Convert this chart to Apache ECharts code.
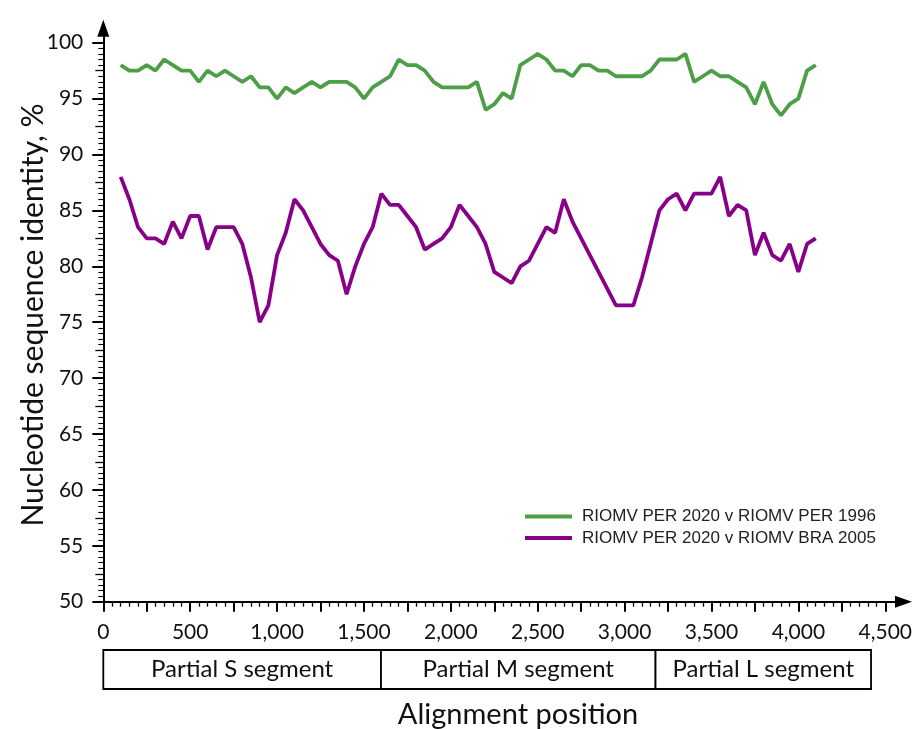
<!DOCTYPE html>
<html><head><meta charset="utf-8">
<script src="https://cdn.jsdelivr.net/npm/echarts@6/dist/echarts.min.js"></script>
<style>html,body{margin:0;padding:0;background:#fff}#c{width:915px;height:729px}</style>
</head><body><div id="c"></div>
<script>
// ---- data ----
const positions = [100,150,200,250,300,350,400,450,500,550,600,650,700,750,800,850,900,950,1000,1050,
  1100,1150,1200,1250,1300,1350,1400,1450,1500,1550,1600,1650,1700,1750,1800,1850,1900,1950,2000,2050,
  2100,2150,2200,2250,2300,2350,2400,2450,2500,2550,2600,2650,2700,2750,2800,2850,2900,2950,3000,3050,
  3100,3150,3200,3250,3300,3350,3400,3450,3500,3550,3600,3650,3700,3750,3800,3850,3900,3950,4000,4050,4100];
const seriesNames = ['RIOMV PER 2020 v RIOMV PER 1996', 'RIOMV PER 2020 v RIOMV BRA 2005'];
const identityPER1996 = [98,97.5,97.5,98,97.5,98.5,98,97.5,97.5,96.5,97.5,97,97.5,97,96.5,97,96,96,95,96,
  95.5,96,96.5,96,96.5,96.5,96.5,96,95,96,96.5,97,98.5,98,98,97.5,96.5,96,96,96,
  96,96.5,94,94.5,95.5,95,98,98.5,99,98.5,97.5,97.5,97,98,98,97.5,97.5,97,97,97,
  97,97.5,98.5,98.5,98.5,99,96.5,97,97.5,97,97,96.5,96,94.5,96.5,94.5,93.5,94.5,95,97.5,98];
const identityBRA2005 = [88,86,83.5,82.5,82.5,82,84,82.5,84.5,84.5,81.5,83.5,83.5,83.5,82,79,75,76.5,81,83,
  86,85,83.5,82,81,80.5,77.5,80,82,83.5,86.5,85.5,85.5,84.5,83.5,81.5,82,82.5,83.5,85.5,
  84.5,83.5,82,79.5,79,78.5,80,80.5,82,83.5,83,86,84,82.5,81,79.5,78,76.5,76.5,76.5,
  79,82,85,86,86.5,85,86.5,86.5,86.5,88,84.5,85.5,85,81,83,81,80.5,82,79.5,82,82.5];
const xTickLabels = [0,500,1000,1500,2000,2500,3000,3500,4000,4500];
const yTickLabels = [50,55,60,65,70,75,80,85,90,95,100];
const segmentNames = ['Partial S segment', 'Partial M segment', 'Partial L segment'];
const segmentStarts = [0, 1595, 3172];
const segmentEnds = [1595, 3172, 4410];

// ---- layout / style ----
const X_MAX = 4605, Y_MIN = 50, Y_MAX = 101.3;
const GREEN = '#4c9f46', PURPLE = '#880088';
const AXIS_FONT = 'Lato';
function range(a, b, step) { const r = []; for (let v = a; v <= b + 1e-9; v += step) r.push(Math.round(v * 100) / 100); return r; }
const xMajor = range(0, 4500, 250);
const xMinor = range(0, 4500, 50).filter(v => v % 250 !== 0);
const yMid = range(52.5, 97.5, 5);
const yMinor = range(50, 100, 0.5).filter(v => Math.abs(v / 2.5 - Math.round(v / 2.5)) > 1e-6);

const blankX = { type: 'value', gridIndex: 0, min: 0, max: X_MAX, position: 'bottom', splitLine: { show: false },
  axisLine: { show: false }, axisLabel: { show: false }, axisTick: { show: false } };
const blankY = { type: 'value', gridIndex: 0, min: Y_MIN, max: Y_MAX, position: 'left', splitLine: { show: false },
  axisLine: { show: false }, axisLabel: { show: false }, axisTick: { show: false } };

const chart = echarts.init(document.getElementById('c'), null, { renderer: 'canvas' });
chart.setOption({
  animation: false,
  backgroundColor: '#fff',
  grid: [
    { left: 103.3, right: 10, top: 28.2, bottom: 127.3 },
    { left: 103.3, right: 10, top: 650, height: 39 }
  ],
  xAxis: [
    Object.assign({}, blankX, {
      axisLine: { show: true, onZero: false, lineStyle: { color: '#000', width: 2 }, symbol: ['none', 'triangle'], symbolSize: [12, 17] },
      axisTick: { show: true, customValues: xMajor, length: 10, lineStyle: { color: '#000', width: 2 } },
      axisLabel: { show: true, customValues: xTickLabels, formatter: v => Number(v).toLocaleString('en-US'),
        margin: 20, fontFamily: AXIS_FONT, fontSize: 21, color: '#111' }
    }),
    Object.assign({}, blankX, { axisTick: { show: true, customValues: xMinor, length: 5, lineStyle: { color: '#000', width: 1.3 } } }),
    { type: 'value', gridIndex: 1, min: 0, max: X_MAX, show: false }
  ],
  yAxis: [
    Object.assign({}, blankY, {
      axisLine: { show: true, onZero: false, lineStyle: { color: '#000', width: 2 }, symbol: ['none', 'triangle'], symbolSize: [12, 17] },
      axisTick: { show: true, customValues: yTickLabels, length: 11, lineStyle: { color: '#000', width: 2 } },
      axisLabel: { show: true, customValues: yTickLabels, margin: 20, fontFamily: AXIS_FONT, fontSize: 21, color: '#111' }
    }),
    Object.assign({}, blankY, { axisTick: { show: true, customValues: yMid, length: 8, lineStyle: { color: '#000', width: 1.3 } } }),
    Object.assign({}, blankY, { axisTick: { show: true, customValues: yMinor, length: 5, lineStyle: { color: '#000', width: 1.1 } } }),
    { type: 'value', gridIndex: 1, min: 0, max: 1, show: false }
  ],
  legend: {
    orient: 'vertical', left: 525, top: 508, padding: 0, itemGap: 4.6, itemWidth: 47, itemHeight: 4, icon: 'rect',
    textStyle: { fontFamily: 'Liberation Sans', fontSize: 17, color: '#222', lineHeight: 17, padding: [0, 0, 0, 5] },
    data: seriesNames
  },
  series: [
    { name: seriesNames[0], type: 'line', xAxisIndex: 0, yAxisIndex: 0, showSymbol: false, symbol: 'none',
      color: GREEN, lineStyle: { color: GREEN, width: 3.8 }, data: positions.map((p, i) => [p, identityPER1996[i]]) },
    { name: seriesNames[1], type: 'line', xAxisIndex: 0, yAxisIndex: 0, showSymbol: false, symbol: 'none',
      color: PURPLE, lineStyle: { color: PURPLE, width: 3.8 }, data: positions.map((p, i) => [p, identityBRA2005[i]]) },
    { type: 'custom', xAxisIndex: 2, yAxisIndex: 3, silent: true, encode: { x: [0, 1] },
      data: segmentStarts.map((s, i) => [s, segmentEnds[i]]),
      renderItem: function (params, api) {
        const p0 = api.coord([api.value(0), 1]);
        const p1 = api.coord([api.value(1), 0]);
        return { type: 'group', children: [
          { type: 'rect', shape: { x: p0[0], y: p0[1], width: p1[0] - p0[0], height: p1[1] - p0[1] },
            style: { fill: '#fff', stroke: '#000', lineWidth: 1.8 } },
          { type: 'text', style: { text: segmentNames[params.dataIndex], x: (p0[0] + p1[0]) / 2, y: (p0[1] + p1[1]) / 2,
            align: 'center', verticalAlign: 'middle', font: '24px ' + AXIS_FONT, fill: '#111' } }
        ] };
      }
    }
  ],
  graphic: [
    { type: 'text', x: 33, y: 315, rotation: Math.PI / 2, style: { text: 'Nucleotide sequence identity, %',
      font: '30px ' + AXIS_FONT, fill: '#111', align: 'center', verticalAlign: 'middle' } },
    { type: 'text', x: 518, y: 715, style: { text: 'Alignment position',
      font: '29px ' + AXIS_FONT, fill: '#111', align: 'center', verticalAlign: 'middle' } }
  ]
});
</script>
</body></html>
